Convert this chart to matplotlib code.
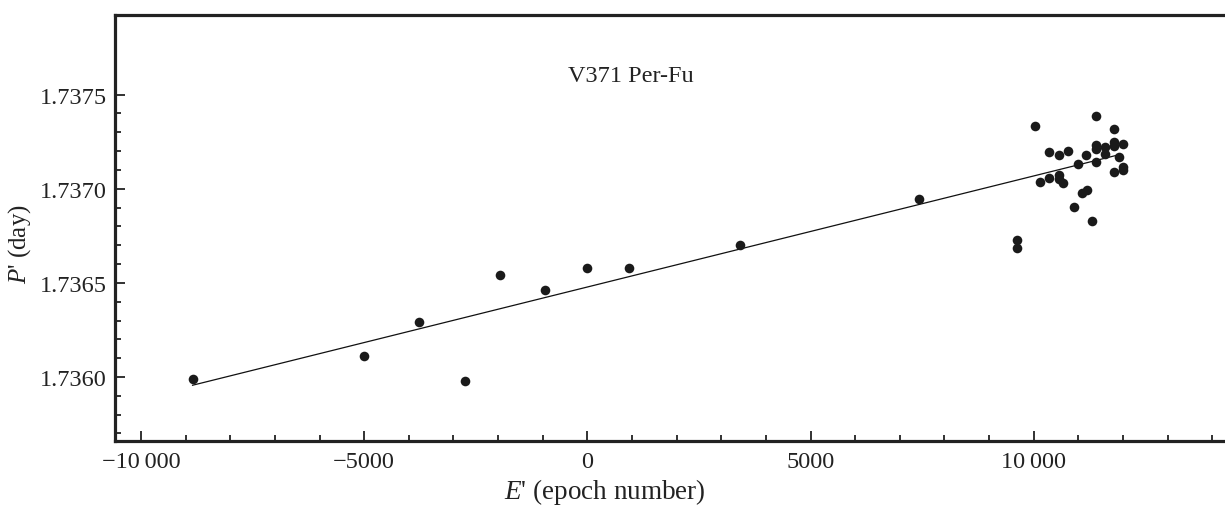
import numpy as np
import matplotlib.pyplot as plt
from matplotlib.ticker import FixedLocator, FixedFormatter, MultipleLocator

plt.rcParams['font.family'] = ['Liberation Serif', 'DejaVu Serif']
plt.rcParams['mathtext.fontset'] = 'custom'
plt.rcParams['mathtext.it'] = 'Liberation Serif:italic'
plt.rcParams['mathtext.rm'] = 'Liberation Serif'

# observed periods P' vs epoch number E'
epoch = [-8845, -4995, -3762, -2747, -1948, -940, 0, 940, 3426, 7427,
         10038, 11404, 11807, 10352, 10562, 10770, 10994, 11180, 11404, 11404,
         11605, 11605, 11807, 11807, 12009, 11919, 11404, 11807, 12009, 12009,
         10150, 10352, 10562, 10562, 10665, 11090, 11195, 10898, 11301, 9630, 9630]
period = [1.73599, 1.73611, 1.73629, 1.73598, 1.73654, 1.73646, 1.73658, 1.73658, 1.73670, 1.736945,
          1.737331, 1.737386, 1.737315, 1.737193, 1.737177, 1.737203, 1.737131, 1.737177, 1.737234, 1.737212,
          1.737221, 1.737186, 1.737248, 1.737227, 1.737237, 1.737168, 1.737142, 1.737090, 1.737115, 1.737101,
          1.737037, 1.737055, 1.737074, 1.737052, 1.737033, 1.736980, 1.736996, 1.736901, 1.736828, 1.736728, 1.736683]

# linear fit line
fit_start, fit_end = -8845, 11900
fit_intercept = 1.736478
fit_slope = 5.9e-8

xticks = [-10000, -5000, 0, 5000, 10000]
xtick_labels = ['\u221210\u2009000', '\u22125000', '0', '5000', '10\u2009000']
yticks = [1.7360, 1.7365, 1.7370, 1.7375]
ytick_labels = ['1.7360', '1.7365', '1.7370', '1.7375']

fig = plt.figure(figsize=(12.25, 5.1), dpi=100)
ax = fig.add_axes([115 / 1225, 68 / 510, 1 - 115 / 1225, 426 / 510])

fx = np.array([fit_start, fit_end])
ax.plot(fx, fit_intercept + fit_slope * fx, color='#111111', lw=0.9)
ax.scatter(epoch, period, s=48, color='#1a1a1a', zorder=3, linewidths=0)

ax.set_xlim(-10582, 14286)
ax.set_ylim(1.73566, 1.737923)

ax.xaxis.set_major_locator(FixedLocator(xticks))
ax.xaxis.set_major_formatter(FixedFormatter(xtick_labels))
ax.xaxis.set_minor_locator(MultipleLocator(1000))
ax.yaxis.set_major_locator(FixedLocator(yticks))
ax.yaxis.set_major_formatter(FixedFormatter(ytick_labels))
ax.yaxis.set_minor_locator(FixedLocator(np.arange(1.7357, 1.73755, 0.0001)))

ax.tick_params(which='both', direction='in', width=1.3, colors='#222222', labelsize=17.5)
ax.tick_params(which='major', length=7, pad=7)
ax.tick_params(which='minor', length=4.5)
ax.tick_params(axis='y', which='major', pad=6)

for side in ['left', 'bottom', 'top']:
    ax.spines[side].set_linewidth(2.3)
    ax.spines[side].set_color('#222222')
ax.spines['right'].set_visible(False)

ax.set_xlabel("$E$' (epoch number)", fontsize=19.5, color='#222222')
ax.xaxis.set_label_coords(0.441, -0.082)
ax.set_ylabel("$P$' (day)", fontsize=18, color='#222222')
ax.yaxis.set_label_coords(-0.074, 0.465)

ax.text(985, 1.737600, 'V371 Per-Fu', fontsize=17.5, ha='center', va='center', color='#222222')

fig.savefig('out.png', dpi=100)
